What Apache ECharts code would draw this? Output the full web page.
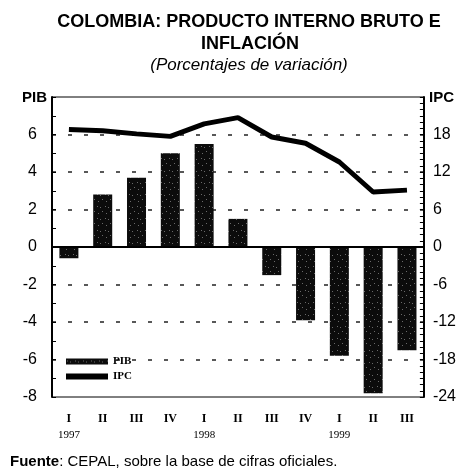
<!DOCTYPE html>
<html>
<head>
<meta charset="utf-8">
<script src="https://cdn.jsdelivr.net/npm/echarts@6/dist/echarts.min.js"></script>
<style>
  html, body { margin: 0; padding: 0; background: #fff; }
  #chart { width: 459px; height: 472px; }
</style>
</head>
<body>
<div id="chart"></div>
<script>
  // trimestres 1997-1999
  var quarters = ['I', 'II', 'III', 'IV', 'I', 'II', 'III', 'IV', 'I', 'II', 'III']
  var years = ['1997', '', '', '', '1998', '', '', '', '1999', '', '']
  // PIB, variacion (eje izquierdo)
  var pib = [-0.6, 2.8, 3.7, 5.0, 5.5, 1.5, -1.5, -3.9, -5.8, -7.8, -5.5]
  // IPC, variacion (eje derecho)
  var ipc = [18.8, 18.6, 18.1, 17.7, 19.7, 20.7, 17.6, 16.6, 13.6, 8.8, 9.1]

  var sans = '"Liberation Sans", Arial, sans-serif'
  var serif = '"Liberation Serif", "DejaVu Serif", serif'

  // textura de las barras (negro con puntos grises, como el original escaneado)
  function barPattern () {
    var c = document.createElement('canvas')
    c.width = 8
    c.height = 12
    var ctx = c.getContext('2d')
    ctx.fillStyle = '#0c0c0c'
    ctx.fillRect(0, 0, 8, 12)
    ctx.fillStyle = '#6a6a6a'
    ctx.fillRect(1, 2, 1, 1)
    ctx.fillRect(4, 3, 1, 1)
    ctx.fillRect(6, 7, 1, 1)
    ctx.fillRect(2, 9, 1, 1)
    return c
  }

  var myChart = echarts.init(document.getElementById('chart'))
  var option = {
    animation: false,
    textStyle: { fontFamily: sans, color: '#000' },
    grid: {
      left: 52,
      right: 35,
      top: 97,
      bottom: 75,
      show: true,
      borderColor: '#000',
      borderWidth: 1
    },
    legend: {
      orient: 'vertical',
      left: 61,
      top: 351,
      itemWidth: 42,
      itemHeight: 6,
      itemGap: 4,
      textStyle: { fontFamily: serif, fontSize: 11, fontWeight: 'bold', color: '#000' },
      data: [
        { name: 'PIB', icon: 'rect' },
        { name: 'IPC', icon: 'rect', itemStyle: { color: '#000' } }
      ]
    },
    xAxis: {
      type: 'category',
      data: quarters,
      axisLine: { lineStyle: { color: '#000', width: 2 } },
      axisTick: { show: false },
      axisLabel: {
        interval: 0,
        margin: 14,
        formatter: function (v, i) {
          return '{q|' + v + '}\n{y|' + (years[i] || ' ') + '}'
        },
        rich: {
          q: { fontFamily: serif, fontSize: 12, fontWeight: 'bold', color: '#000', lineHeight: 16 },
          y: { fontFamily: serif, fontSize: 11, color: '#000', lineHeight: 16 }
        }
      }
    },
    yAxis: [
      {
        type: 'value',
        min: -8,
        max: 8,
        interval: 2,
        axisLine: { show: true, lineStyle: { color: '#000', width: 2 } },
        axisTick: { show: true, inside: true, length: 4, lineStyle: { color: '#000' } },
        minorTick: { show: true, splitNumber: 2, length: 4, lineStyle: { color: '#000' } },
        axisLabel: {
          margin: 15,
          fontSize: 16,
          color: '#000',
          formatter: function (v) { return v === 8 ? '' : v }
        },
        splitLine: {
          show: true,
          showMinLine: false,
          showMaxLine: false,
          lineStyle: { color: '#222', width: 1.5, type: [4, 12] }
        }
      },
      {
        type: 'value',
        min: -24,
        max: 24,
        interval: 6,
        position: 'right',
        axisLine: { show: true, lineStyle: { color: '#000', width: 2 } },
        axisTick: { show: true, inside: true, length: 4, lineStyle: { color: '#000' } },
        minorTick: { show: true, splitNumber: 6, length: 4, lineStyle: { color: '#000' } },
        axisLabel: {
          margin: 9,
          fontSize: 16,
          color: '#000',
          formatter: function (v) { return v === 24 ? '' : v }
        },
        splitLine: { show: false }
      }
    ],
    series: [
      {
        name: 'PIB',
        type: 'bar',
        yAxisIndex: 0,
        barWidth: 19,
        itemStyle: { color: { image: barPattern(), repeat: 'repeat' } },
        data: pib,
        markLine: {
          silent: true,
          symbol: 'none',
          label: { show: false },
          lineStyle: { color: '#000', width: 2, type: 'solid' },
          data: [{ yAxis: 0 }]
        }
      },
      {
        name: 'IPC',
        type: 'line',
        yAxisIndex: 1,
        symbol: 'none',
        lineStyle: { color: '#000', width: 5 },
        itemStyle: { color: '#000' },
        data: ipc,
        z: 5
      }
    ],
    graphic: [
      { type: 'text', x: 249, y: 13, style: { text: 'COLOMBIA: PRODUCTO INTERNO BRUTO E', font: 'bold 18px ' + sans, fill: '#000', align: 'center', verticalAlign: 'top' } },
      { type: 'text', x: 250, y: 35, style: { text: 'INFLACIÓN', font: 'bold 18px ' + sans, fill: '#000', align: 'center', verticalAlign: 'top' } },
      { type: 'text', x: 249, y: 57, style: { text: '(Porcentajes de variación)', font: 'italic 17px ' + sans, fill: '#000', align: 'center', verticalAlign: 'top' } },
      { type: 'text', x: 22, y: 90, style: { text: 'PIB', font: 'bold 15px ' + sans, fill: '#000' } },
      { type: 'text', x: 429, y: 90, style: { text: 'IPC', font: 'bold 15px ' + sans, fill: '#000' } },
      {
        type: 'text',
        x: 10,
        y: 462,
        style: {
          text: '{b|Fuente}: CEPAL, sobre la base de cifras oficiales.',
          font: '15px ' + sans,
          fill: '#000',
          verticalAlign: 'middle',
          rich: { b: { fontWeight: 'bold', fontSize: 15, fontFamily: sans } }
        }
      }
    ]
  }
  myChart.setOption(option, true)
</script>
</body>
</html>
